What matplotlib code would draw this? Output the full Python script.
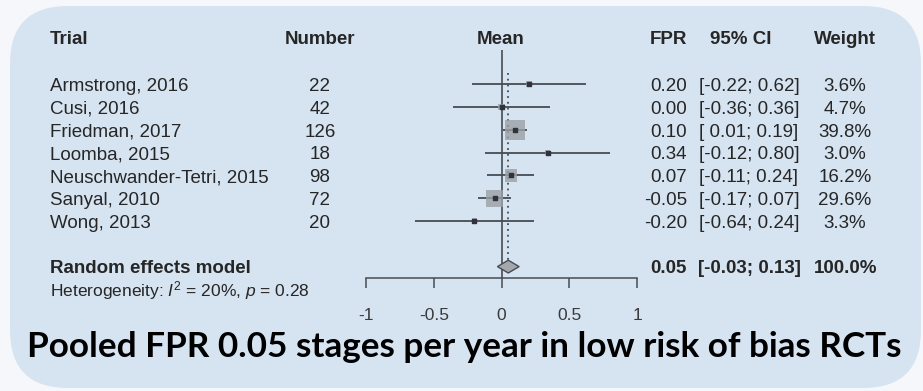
import matplotlib.pyplot as plt
from matplotlib.patches import FancyBboxPatch
from matplotlib.transforms import blended_transform_factory

trials = ["Armstrong, 2016", "Cusi, 2016", "Friedman, 2017", "Loomba, 2015",
          "Neuschwander-Tetri, 2015", "Sanyal, 2010", "Wong, 2013"]
numbers = [22, 42, 126, 18, 98, 72, 20]
fpr = [0.20, 0.00, 0.10, 0.34, 0.07, -0.05, -0.20]
ci_low = [-0.22, -0.36, 0.01, -0.12, -0.11, -0.17, -0.64]
ci_high = [0.62, 0.36, 0.19, 0.80, 0.24, 0.07, 0.24]
weights = [3.6, 4.7, 39.8, 3.0, 16.2, 29.6, 3.3]
pooled, pooled_low, pooled_high = 0.05, -0.03, 0.13
ticks = [-1, -0.5, 0, 0.5, 1]
tick_labels = ["-1", "-0.5", "0", "0.5", "1"]

plt.rcParams['font.family'] = 'Liberation Sans'
plt.rcParams['mathtext.fontset'] = 'custom'
plt.rcParams['mathtext.rm'] = 'Liberation Sans'
plt.rcParams['mathtext.it'] = 'Liberation Sans:italic'

txt = '#262626'
line = '#474c52'

fig = plt.figure(figsize=(9.23, 3.91), dpi=100)
fig.patch.set_facecolor('#f5f7fa')

# background panel, pixel coordinates
bg = fig.add_axes([0, 0, 1, 1])
bg.set_xlim(0, 923)
bg.set_ylim(391, 0)
bg.axis('off')
bg.add_patch(FancyBboxPatch((10, 6), 911, 382, boxstyle='round,pad=0,rounding_size=58',
                            fc='#d6e3f1', ec='none'))

# forest plot panel
ax = fig.add_axes([366 / 923, (391 - 278) / 391, 271 / 923, (278 - 50) / 391])
ax.patch.set_alpha(0)
ax.set_xlim(-1, 1)
ax.set_ylim(8.5, -1.5)
for s in ['top', 'right', 'left']:
    ax.spines[s].set_visible(False)
ax.spines['bottom'].set_color(line)
ax.spines['bottom'].set_linewidth(1.1)
ax.set_yticks([])
ax.set_xticks(ticks)
ax.set_xticklabels(tick_labels)
ax.tick_params(axis='x', length=7.5, width=1.1, color=line, pad=14,
               labelsize=12.5, labelcolor='#3a3a3a')

ax.axvline(0, color=line, lw=1.2)
ax.plot([pooled, pooled], [-0.5, 7.75], color=line, lw=1.3, ls=(0, (1, 2.2)))

rows = list(range(len(trials)))
ax.hlines(rows, ci_low, ci_high, color=line, lw=1.3)
ax.scatter(fpr, rows, s=[5.0 * w for w in weights], marker='s',
           color='#9aa0a7', alpha=0.8, edgecolors='none', zorder=3)
ax.scatter(fpr, rows, s=8, marker='s', color='#30343a', zorder=4)

ax.fill([pooled_low, pooled, pooled_high, pooled], [8, 7.72, 8, 8.28],
        fc='#a3a8ae', ec=line, lw=1.0, zorder=3)

# table text: x in pixels, y in row units
tr = blended_transform_factory(bg.transData, ax.transData)
fs = 13.5
hy = -1.75
ax.text(50, hy, "Trial", transform=tr, fontsize=fs, fontweight='bold', color=txt, va='baseline')
ax.text(320, hy, "Number", transform=tr, fontsize=fs, fontweight='bold', color=txt, va='baseline', ha='center')
ax.text(501, hy, "Mean", transform=tr, fontsize=fs, fontweight='bold', color=txt, va='baseline', ha='center')
ax.text(687, hy, "FPR", transform=tr, fontsize=fs, fontweight='bold', color=txt, va='baseline', ha='right')
ax.text(741, hy, "95% CI", transform=tr, fontsize=fs, fontweight='bold', color=txt, va='baseline', ha='center')
ax.text(845, hy, "Weight", transform=tr, fontsize=fs, fontweight='bold', color=txt, va='baseline', ha='center')

for i in rows:
    y = i + 0.3
    ax.text(50, y, trials[i], transform=tr, fontsize=fs, color=txt, va='baseline')
    ax.text(320, y, str(numbers[i]), transform=tr, fontsize=fs, color=txt, va='baseline', ha='center')
    ax.text(687, y, "%.2f" % fpr[i], transform=tr, fontsize=fs, color=txt, va='baseline', ha='right')
    lo = "%.2f" % ci_low[i]
    if ci_low[i] >= 0:
        lo = " " + lo
    ax.text(699, y, "[%s; %.2f]" % (lo, ci_high[i]), transform=tr, fontsize=fs, color=txt, va='baseline')
    ax.text(845, y, "%.1f%%" % weights[i], transform=tr, fontsize=fs, color=txt, va='baseline', ha='center')

ry = 8.29
ax.text(50, ry, "Random effects model", transform=tr, fontsize=fs, fontweight='bold', color=txt, va='baseline')
ax.text(687, ry, "%.2f" % pooled, transform=tr, fontsize=fs, fontweight='bold', color=txt, va='baseline', ha='right')
ax.text(698, ry, "[%.2f; %.2f]" % (pooled_low, pooled_high), transform=tr, fontsize=fs,
        fontweight='bold', color=txt, va='baseline')
ax.text(877, ry, "100.0%", transform=tr, fontsize=fs, fontweight='bold', color=txt, va='baseline', ha='right')
ax.text(50, 9.3, r"Heterogeneity: $I^2$ = 20%, $p$ = 0.28", transform=tr, fontsize=12.5,
        color=txt, va='baseline')

bg.text(464, 347, "Pooled FPR 0.05 stages per year in low risk of bias RCTs",
        ha='center', va='center', fontfamily='Lato', fontweight='bold', fontsize=25.3, color='black')

fig.savefig('out.png', dpi=100, facecolor=fig.get_facecolor())
